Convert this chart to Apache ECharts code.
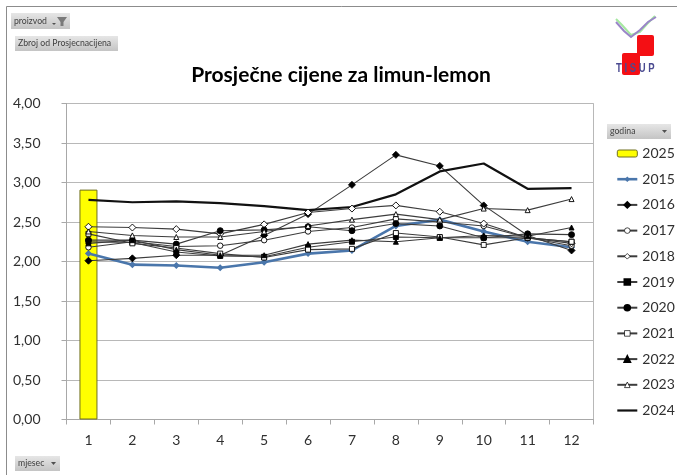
<!DOCTYPE html>
<html><head><meta charset="utf-8">
<style>html,body{margin:0;padding:0;background:#fff}#c{width:677px;height:475px;filter:blur(0.35px)}</style>
<script src="https://cdn.jsdelivr.net/npm/echarts@6/dist/echarts.min.js"></script>
</head><body><div id="c"></div>
<script>
const months=['1','2','3','4','5','6','7','8','9','10','11','12'];
const y2025=[2.91,null,null,null,null,null,null,null,null,null,null,null];
const y2015=[2.10,1.96,1.95,1.92,1.99,2.10,2.14,2.45,2.53,2.38,2.25,2.18];
const y2016=[2.01,2.04,2.08,2.08,2.33,2.60,2.97,3.35,3.21,2.71,2.33,2.14];
const y2017=[2.18,2.25,2.19,2.20,2.27,2.38,2.43,2.54,2.50,2.45,2.30,2.20];
const y2018=[2.44,2.43,2.41,2.35,2.47,2.62,2.67,2.71,2.63,2.48,2.30,2.23];
const y2019=[2.25,2.24,2.12,2.07,2.06,2.18,2.25,2.31,2.30,2.30,2.30,2.25];
const y2020=[2.27,2.27,2.22,2.39,2.40,2.44,2.39,2.48,2.45,2.30,2.35,2.34];
const y2021=[2.35,2.23,2.17,2.10,2.05,2.15,2.16,2.36,2.31,2.21,2.30,2.25];
const y2022=[2.23,2.27,2.15,2.08,2.08,2.22,2.27,2.25,2.30,2.33,2.32,2.43];
const y2023=[2.38,2.33,2.31,2.31,2.38,2.45,2.53,2.60,2.53,2.67,2.65,2.79];
const y2024=[2.78,2.75,2.76,2.74,2.70,2.65,2.69,2.85,3.14,3.24,2.92,2.93];
const yTicks=['0,00','0,50','1,00','1,50','2,00','2,50','3,00','3,50','4,00'];
const FONT='Lato';
function ln(name,data,symbol,fill,size){
  return {name,type:'line',data,symbol,symbolSize:size||5,showSymbol:true,
    lineStyle:{color:'#3c3c3c',width:1.1},
    itemStyle:{color:fill,borderColor:'#000',borderWidth:0.9},z:3};
}
function btn(x,y,w,h,text){
  return [{type:'rect',shape:{x,y,width:w,height:h},style:{fill:new echarts.graphic.LinearGradient(0,0,0,1,[{offset:0,color:'#e6e6e6'},{offset:1,color:'#c4c4c4'}])},silent:true},
  {type:'text',x:x+3,y:y+h/2,style:{text,fontFamily:FONT,fontSize:8.7,fill:'#404040',verticalAlign:'middle'},silent:true}];
}
const graphics=[
  {type:'line',shape:{x1:6.5,y1:6.5,x2:677,y2:6.5},style:{stroke:'#8c8c8c',lineWidth:1}},
  {type:'line',shape:{x1:6.5,y1:6.5,x2:6.5,y2:475},style:{stroke:'#8c8c8c',lineWidth:1}},
  ...btn(11,13,59,16,'proizvod'),
  {type:'polygon',shape:{points:[[57,17],[67,17],[63.5,22],[63.5,26],[60.5,26],[60.5,22]]},style:{fill:'#7a7a7a'}},
  {type:'polygon',shape:{points:[[52,23],[56,23],[54,25]]},style:{fill:'#505050'}},
  ...btn(15,36,103,15,'Zbroj od Prosjecnacijena'),
  ...btn(607,124,64,15,'godina'),
  {type:'polygon',shape:{points:[[662,130],[667,130],[664.5,133]]},style:{fill:'#505050'}},
  ...btn(15,456,45,15,'mjesec'),
  {type:'polygon',shape:{points:[[51,462],[56,462],[53.5,465]]},style:{fill:'#505050'}},
  {type:'rect',shape:{x:637,y:35,width:17,height:21,r:2},style:{fill:'#f40f14'}},
  {type:'rect',shape:{x:622,y:53,width:18,height:22,r:2},style:{fill:'#f40f14'}},
  {type:'polyline',shape:{points:[[616,19],[622,25],[631,35],[640,32],[647,24],[655,16]]},style:{fill:'none',stroke:'#a5e8a0',lineWidth:2}},
  {type:'polyline',shape:{points:[[616,22],[624,31],[631,37],[640,30],[648,22],[656,17]]},style:{fill:'none',stroke:'#9a86c8',lineWidth:2}},
  {type:'text',x:616,y:68,scaleY:1.4,style:{text:'T I S U P',fontFamily:'Liberation Sans',fontSize:9.5,fontWeight:'bold',fill:'#4a4a90',verticalAlign:'middle'}}
];
const hollow={borderWidth:0.7,borderColor:'#000',color:'#fff'};
const chart=echarts.init(document.getElementById('c'),null,{renderer:'canvas'});
chart.setOption({
  animation:false,
  backgroundColor:'#fff',
  title:{text:'Prosječne cijene za limun-lemon',left:336,top:60,textAlign:'center',
    textStyle:{fontFamily:FONT,fontSize:21,fontWeight:'bold',color:'#000'}},
  grid:{left:66.5,right:83.5,top:103.5,bottom:55.5,show:true,borderColor:'#b8b8b8',borderWidth:1,backgroundColor:'transparent'},
  legend:{orient:'vertical',left:611,top:141,itemWidth:20,itemHeight:7,itemGap:10.7,
    textStyle:{fontFamily:FONT,fontSize:14,color:'#303030',lineHeight:15},
    data:[{name:'2025',itemStyle:{borderWidth:1,borderColor:'#6e6e20',color:'#ffff00'}},
      {name:'2015',lineStyle:{width:2.6,color:'#4a76ab'}},
      '2016',
      {name:'2017',itemStyle:hollow},
      {name:'2018',itemStyle:hollow},
      '2019','2020',
      {name:'2021',itemStyle:hollow},
      '2022',
      {name:'2023',itemStyle:hollow},
      {name:'2024',lineStyle:{width:2.2,color:'#111'},itemStyle:{opacity:0}}]},
  xAxis:{type:'category',data:months,boundaryGap:true,
    axisLine:{lineStyle:{color:'#a8a8a8'}},
    axisTick:{show:true,length:5,lineStyle:{color:'#a8a8a8'}},
    axisLabel:{fontFamily:FONT,fontSize:14,color:'#303030',margin:14},
    splitLine:{show:false}},
  yAxis:{type:'value',min:0,max:4,interval:0.5,
    axisLine:{show:true,lineStyle:{color:'#a8a8a8'}},
    axisTick:{show:true,length:5,lineStyle:{color:'#a8a8a8'}},
    axisLabel:{fontFamily:FONT,fontSize:14,color:'#303030',margin:26,
      formatter:(v)=>yTicks[Math.round(v*2)]},
    splitLine:{show:true,lineStyle:{color:'#b8b8b8',width:1}}},
  series:[
    {name:'2025',type:'bar',data:y2025,barWidth:18,itemStyle:{color:'#ffff00',borderColor:'#6e6e20',borderWidth:1},z:1},
    {name:'2015',type:'line',data:y2015,symbol:'diamond',symbolSize:7,lineStyle:{color:'#4a76ab',width:2.6},itemStyle:{color:'#4a76ab'},z:2},
    ln('2016',y2016,'diamond','#000',7),
    ln('2017',y2017,'circle','#fff',5.5),
    ln('2018',y2018,'diamond','#fff',7),
    ln('2019',y2019,'rect','#000',5),
    ln('2020',y2020,'circle','#000',6),
    ln('2021',y2021,'rect','#fff',5),
    ln('2022',y2022,'triangle','#000',5),
    ln('2023',y2023,'triangle','#fff',5),
    {name:'2024',type:'line',data:y2024,symbol:'none',lineStyle:{color:'#111',width:2.2},itemStyle:{color:'#111'},z:3}
  ],
  graphic:{elements:graphics.map(g=>Object.assign({silent:true,z:10},g))}
});
</script></body></html>
